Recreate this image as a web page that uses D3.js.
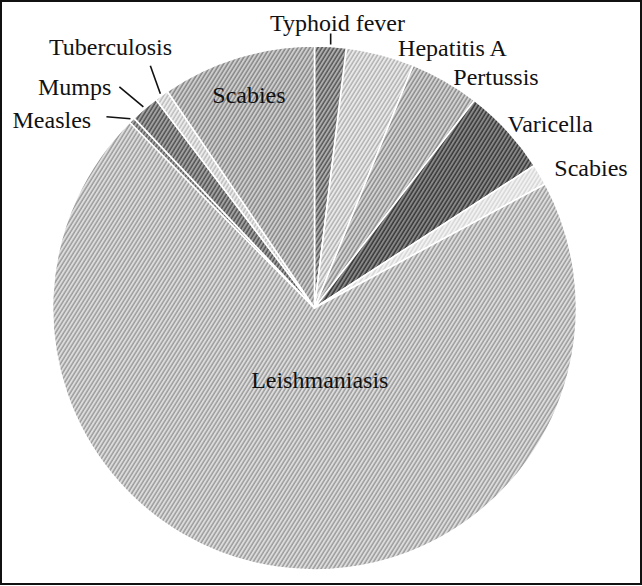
<!DOCTYPE html>
<html>
<head>
<meta charset="utf-8">
<script src="https://cdn.jsdelivr.net/npm/d3@7"></script>
<style>
  body { margin: 0; background: #fff; }
  text { font-family: "Liberation Serif", "Times New Roman", serif; }
</style>
</head>
<body>
<div id="chart"></div>
<script>
// Data, read clockwise from 12 o'clock (share of cases, %)
const diseases = ["Typhoid fever", "Hepatitis A", "Pertussis", "Varicella", "Scabies",
  "Leishmaniasis", "Measles", "Mumps", "Tuberculosis", "Scabies"];
const shares = [1.95, 4.2, 4.3, 5.4, 1.3, 70.4, 0.36, 1.75, 0.85, 9.5];

// hatch colours: [background, line]
const hatchColors = [
  ["#b0b0b0", "#555555"], ["#ebebeb", "#b0b0b0"], ["#d4d4d4", "#8a8a8a"],
  ["#8a8a8a", "#363636"], ["#f3f3f3", "#d6d6d6"], ["#dedede", "#9a9a9a"],
  ["#a8a8a8", "#5c5c5c"], ["#a4a4a4", "#505050"], ["#ededed", "#bcbcbc"],
  ["#cfcfcf", "#858585"]
];

const W = 642, H = 586;
const cx = 314.5, cy = 308, R = 262;

// label placement: offset from the slice's outer edge point
const labelPos = [
  { dx: 7, dy: -24, lead: [0, -11] },
  { dx: 72, dy: -6 },
  { dx: 51, dy: -4 },
  { dx: 43, dy: -6 },
  { dx: 51, dy: -7 },
  { inner: 73, dx: 16, dy: 0 },
  { dx: -80, dy: 0, lead: [-24, -2] },
  { dx: -70, dy: -22, lead: [-24, -20] },
  { dx: -51, dy: -48, lead: [-10, -28] },
  { inner: 223, dx: 0, dy: 0 }
];

const data = diseases.map((d, i) => ({ name: d, value: shares[i], i: i }));

const svg = d3.select("#chart").append("svg")
  .attr("width", W)
  .attr("height", H);

svg.append("rect").attr("width", W).attr("height", H).attr("fill", "#fff");

// hatch patterns
const defs = svg.append("defs");
hatchColors.forEach((c, i) => {
  const p = defs.append("pattern")
    .attr("id", "hatch" + i)
    .attr("patternUnits", "userSpaceOnUse")
    .attr("width", 3.4)
    .attr("height", 10)
    .attr("patternTransform", "rotate(32)");
  p.append("rect").attr("width", 3.4).attr("height", 10).attr("fill", c[0]);
  p.append("line")
    .attr("x1", 1).attr("y1", 0).attr("x2", 1).attr("y2", 10)
    .attr("stroke", c[1]).attr("stroke-width", 1.5);
});

const pie = d3.pie().sort(null).value(d => d.value);
const arcs = pie(data);
const arc = d3.arc().innerRadius(0).outerRadius(R);

const g = svg.append("g").attr("transform", `translate(${cx},${cy})`);

g.selectAll("path.slice")
  .data(arcs)
  .enter()
  .append("path")
  .attr("class", "slice")
  .attr("d", arc)
  .attr("fill", d => `url(#hatch${d.data.i})`)
  .attr("stroke", "#fff")
  .attr("stroke-width", 1.6)
  .attr("stroke-linejoin", "round");

function pointAt(a, r) {
  return [Math.sin(a) * r, -Math.cos(a) * r];
}

arcs.forEach((d, i) => {
  const mid = (d.startAngle + d.endAngle) / 2;
  const lp = labelPos[i];
  let p;
  if (lp.inner) {
    p = pointAt(mid, lp.inner);
  } else {
    p = pointAt(mid, R);
  }
  if (lp.lead) {
    const a = pointAt(mid, R + 2);
    g.append("line")
      .attr("x1", a[0]).attr("y1", a[1])
      .attr("x2", a[0] + lp.lead[0]).attr("y2", a[1] + lp.lead[1])
      .attr("stroke", "#111")
      .attr("stroke-width", 1.6);
  }
  g.append("text")
    .attr("x", p[0] + lp.dx)
    .attr("y", p[1] + lp.dy)
    .attr("text-anchor", "middle")
    .attr("dominant-baseline", "central")
    .attr("font-size", 24)
    .attr("fill", "#111")
    .text(d.data.name);
});

// frame
svg.append("rect")
  .attr("x", 1).attr("y", 1)
  .attr("width", W - 2).attr("height", H - 3)
  .attr("fill", "none")
  .attr("stroke", "#111")
  .attr("stroke-width", 2);
</script>
</body>
</html>
